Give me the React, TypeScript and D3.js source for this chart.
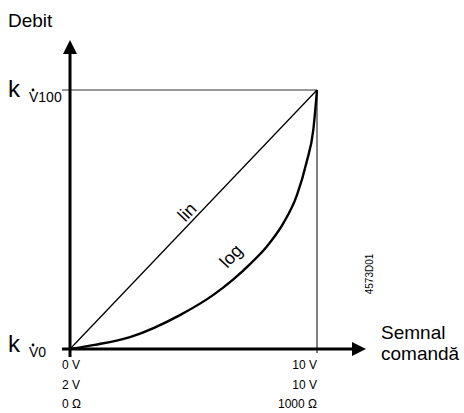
import React from "react";
import * as d3 from "d3";

// Log (equal-percentage) characteristic: signal % -> flow %
const logSignal = [0, 10, 24.3, 44.5, 57.9, 66, 72.9, 79.6, 86.4, 91.8, 95.8, 98.5, 100];
const logFlow = [0, 1.6, 4.6, 13.1, 20.8, 26.8, 32.8, 39.5, 48.6, 59.2, 72.2, 84.6, 100];
// Linear characteristic
const linSignal = [0, 100];
const linFlow = [0, 100];

const leftTicks = ["0 V", "2 V", "0 Ω"];
const rightTicks = ["10 V", "10 V", "1000 Ω"];

const W = 464;
const H = 413;
const FONT = "'Liberation Sans', Arial, Helvetica, sans-serif";

export default function App() {
  const x = d3.scaleLinear().domain([0, 100]).range([70, 317]);
  const y = d3.scaleLinear().domain([0, 100]).range([349, 90]);

  const line = d3
    .line<[number, number]>()
    .x((d) => x(d[0]))
    .y((d) => y(d[1]))
    .curve(d3.curveMonotoneX);

  const logPts: [number, number][] = logSignal.map((s, i) => [s, logFlow[i]]);
  const linPts: [number, number][] = linSignal.map((s, i) => [s, linFlow[i]]);

  const x0 = x(0);
  const y0 = y(0);
  const x1 = x(100);
  const y1 = y(100);

  const linLbl = { x: x(47.4), y: y(52.9) };
  const logLbl = { x: x(65.2), y: y(35.9) };

  return (
    <svg
      width={W}
      height={H}
      style={{ position: "absolute", left: 0, top: 0, background: "#fff" }}
      fontFamily={FONT}
    >
      {/* reference lines */}
      <line x1={62} y1={y1} x2={x1} y2={y1} stroke="#333" strokeWidth={1} />
      <line x1={x1} y1={y1} x2={x1} y2={y0 + 4} stroke="#000" strokeWidth={1} />

      {/* curves */}
      <path d={line(linPts) || ""} fill="none" stroke="#000" strokeWidth={1.3} />
      <path d={line(logPts) || ""} fill="none" stroke="#000" strokeWidth={2.4} />

      {/* axes */}
      <line x1={x0} y1={y0 + 8} x2={x0} y2={53} stroke="#000" strokeWidth={3} />
      <path d={`M${x0},40 L${x0 - 7},54 L${x0 + 7},54 Z`} fill="#000" />
      <line x1={62} y1={y0} x2={353} y2={y0} stroke="#000" strokeWidth={3} />
      <path d={`M366,${y0} L352,${y0 - 7} L352,${y0 + 7} Z`} fill="#000" />

      {/* axis titles */}
      <text x={8} y={27} fontSize={19} fill="#000">Debit</text>
      <text x={381} y={339} fontSize={19} fill="#000">Semnal</text>
      <text x={381} y={360} fontSize={19} fill="#000">comandă</text>

      {/* y labels */}
      <text x={8} y={97} fontSize={24} fill="#000">k</text>
      <text x={29} y={102} fontSize={14} fill="#000">V100</text>
      <circle cx={33} cy={90} r={1.4} fill="#000" />
      <text x={8} y={352} fontSize={24} fill="#000">k</text>
      <text x={29} y={357} fontSize={14} fill="#000">V0</text>
      <circle cx={33} cy={345} r={1.4} fill="#000" />

      {/* x tick labels */}
      {leftTicks.map((t, i) => (
        <text key={"l" + i} x={62} y={369 + i * 19.5} fontSize={12} fill="#000">
          {t}
        </text>
      ))}
      {rightTicks.map((t, i) => (
        <text key={"r" + i} x={x1} y={369 + i * 19.5} fontSize={12} fill="#000" textAnchor="end">
          {t}
        </text>
      ))}

      {/* curve labels */}
      <text
        x={linLbl.x}
        y={linLbl.y}
        fontSize={18}
        textAnchor="middle"
        dominantBaseline="central"
        transform={`rotate(-46 ${linLbl.x} ${linLbl.y})`}
      >
        lin
      </text>
      <text
        x={logLbl.x}
        y={logLbl.y}
        fontSize={18}
        textAnchor="middle"
        dominantBaseline="central"
        transform={`rotate(-47 ${logLbl.x} ${logLbl.y})`}
      >
        log
      </text>

      {/* drawing code */}
      <text
        x={373}
        y={274}
        fontSize={10}
        textAnchor="middle"
        transform={`rotate(-90 373 274)`}
      >
        4573D01
      </text>
    </svg>
  );
}
